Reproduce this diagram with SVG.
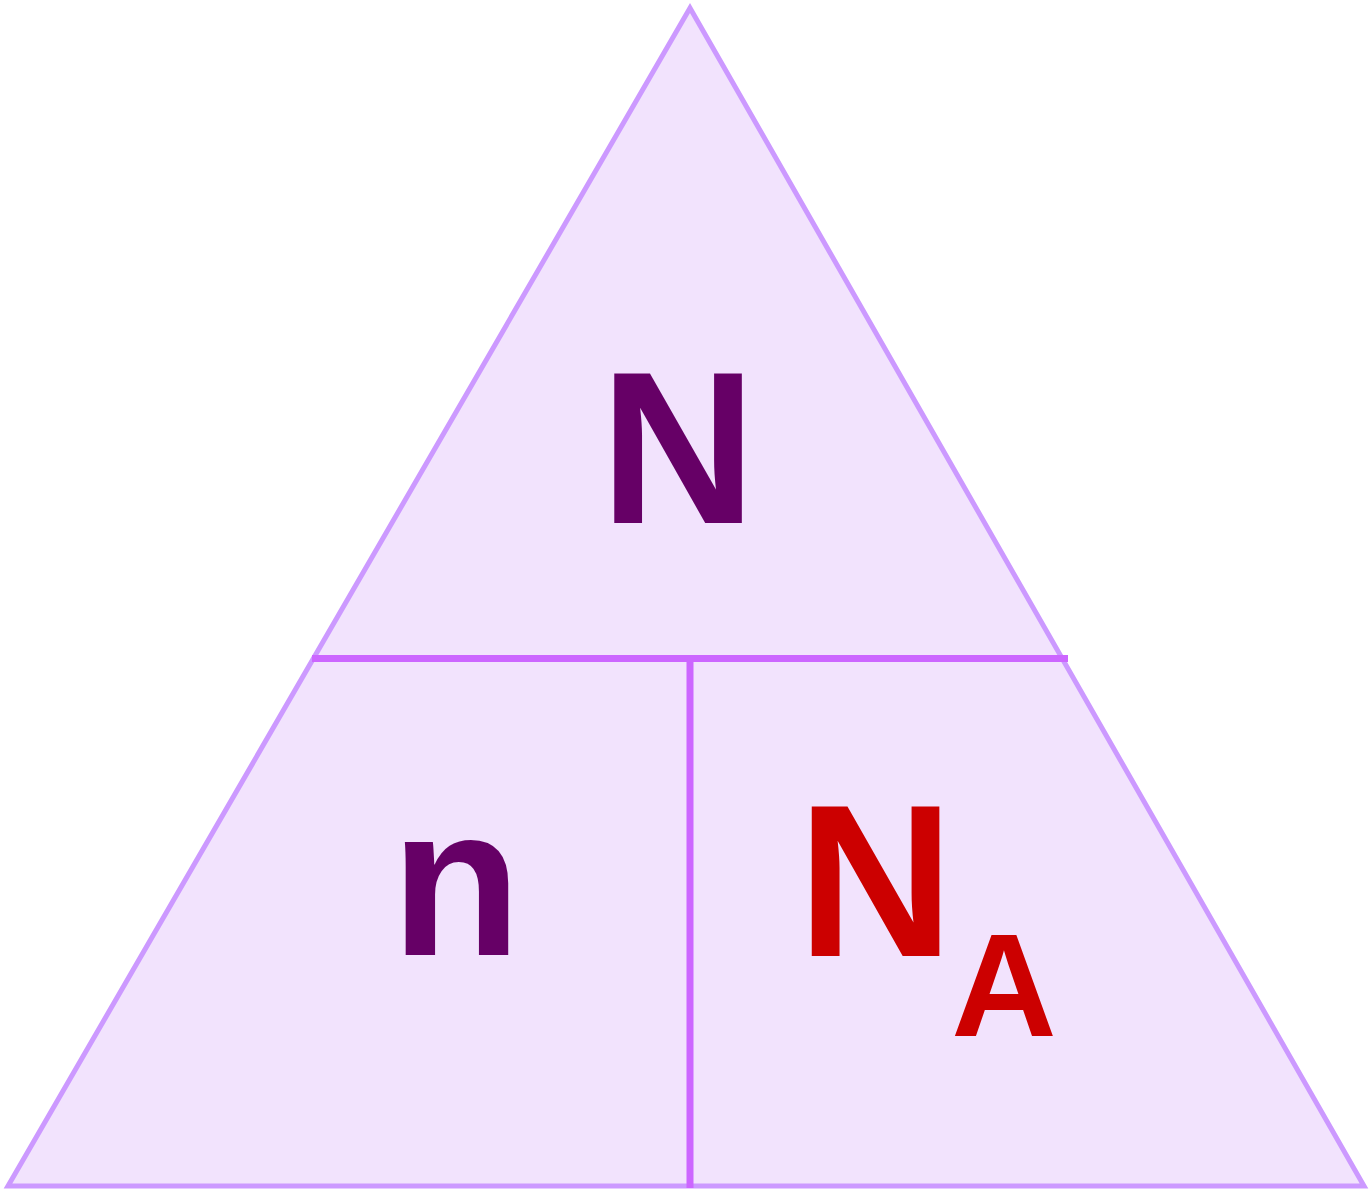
<svg xmlns="http://www.w3.org/2000/svg" width="1369" height="1189" viewBox="0 0 1369 1189">
<style>
.lbl{font-family:"Liberation Sans",Arial,sans-serif;font-weight:bold}
.div{stroke:#CC66FF;stroke-width:7;fill:none}
</style>
<rect width="1369" height="1189" fill="#ffffff"/>
<g id="triangle">
<polygon points="690,8 8,1186 1364,1186" fill="#F2E3FD" stroke="#CC99FF" stroke-width="5"/>
</g>
<g id="connectors">
<line class="div" x1="312" y1="658.5" x2="1068" y2="658.5"/>
<line class="div" x1="690" y1="658" x2="690" y2="1188"/>
</g>
<g id="node-N">
<text class="lbl" x="678" y="523" font-size="217" fill="#660066" text-anchor="middle">N</text>
</g>
<g id="node-n">
<text class="lbl" x="456" y="955" font-size="214" fill="#660066" text-anchor="middle">n</text>
</g>
<g id="node-NA">
<text class="lbl" x="875.5" y="956" font-size="217" fill="#CC0000" text-anchor="middle">N</text>
<text class="lbl" x="1004" y="1036" font-size="146" fill="#CC0000" text-anchor="middle">A</text>
</g>
</svg>
